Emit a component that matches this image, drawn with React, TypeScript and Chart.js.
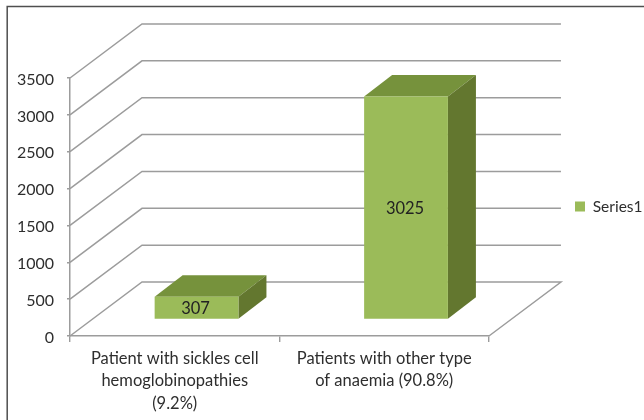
import React, { useEffect, useRef } from "react";
import { Chart, registerables } from "chart.js";

Chart.register(...registerables);

const categories: string[][] = [
  ["Patient with sickles cell", "hemoglobinopathies", "(9.2%)"],
  ["Patients with other type", "of anaemia (90.8%)"],
];
const seriesName = "Series1";
const seriesValues = [307, 3025];
const axisMax = 3500;
const axisStep = 500;

const FONT = "Lato, Carlito, Calibri, sans-serif";
const TEXT = "#2e2e2e";
const GRID = "#9c9c9c";
const FRONT = "#9bbb59";
const TOP = "#76923c";
const SIDE = "#63772f";

const WALL = { dx: 72, dy: 54 };
const BAR_OFFSET = { dx: 21.8, dy: 16.5 };
const BAR_DEPTH = { dx: 28, dy: 21.5 };
const LEGEND_LEFT = 575;
const LEGEND_CENTER_Y = 206.5;
const Y_LABEL_SHIFT = 1.5;

const pseudo3d = {
  id: "pseudo3d",
  afterLayout(chart: any) {
    const l = chart.legend;
    const h = l.bottom - l.top;
    const w = l.right - l.left;
    l.top = LEGEND_CENTER_Y - h / 2;
    l.bottom = l.top + h;
    l.left = LEGEND_LEFT;
    l.right = LEGEND_LEFT + w;
  },
  beforeDraw(chart: any) {
    const { ctx, width, height } = chart;
    chart.scales.y.getLabelItems(chart.chartArea).forEach((item: any) => {
      item.textOffset = Y_LABEL_SHIFT;
    });
    ctx.save();
    ctx.strokeStyle = "#4f4f4f";
    ctx.lineWidth = 1.5;
    ctx.beginPath();
    ctx.moveTo(7.2, height);
    ctx.lineTo(7.2, 6.4);
    ctx.lineTo(width, 6.4);
    ctx.stroke();
    ctx.restore();
  },
  beforeDatasetsDraw(chart: any) {
    const { ctx, scales, chartArea } = chart;
    const y = scales.y;
    const l = chartArea.left;
    const r = chartArea.right;
    ctx.save();
    ctx.strokeStyle = GRID;
    ctx.lineWidth = 1.5;
    for (const t of y.ticks) {
      const py = y.getPixelForValue(t.value);
      ctx.beginPath();
      ctx.moveTo(l, py);
      ctx.lineTo(l + WALL.dx, py - WALL.dy);
      ctx.lineTo(r + WALL.dx, py - WALL.dy);
      if (t.value === 0) ctx.lineTo(r, py);
      ctx.stroke();
    }
    ctx.restore();
  },
  beforeDatasetDraw(chart: any, args: any) {
    const { ctx } = chart;
    const meta = chart.getDatasetMeta(args.index);
    ctx.save();
    ctx.translate(BAR_OFFSET.dx, -BAR_OFFSET.dy);
    for (const bar of meta.data) {
      const p = bar.getProps(["x", "y", "base", "width"], true);
      const x0 = p.x - p.width / 2;
      const x1 = p.x + p.width / 2;
      ctx.fillStyle = TOP;
      ctx.beginPath();
      ctx.moveTo(x0, p.y);
      ctx.lineTo(x0 + BAR_DEPTH.dx, p.y - BAR_DEPTH.dy);
      ctx.lineTo(x1 + BAR_DEPTH.dx, p.y - BAR_DEPTH.dy);
      ctx.lineTo(x1, p.y);
      ctx.closePath();
      ctx.fill();
      ctx.fillStyle = SIDE;
      ctx.beginPath();
      ctx.moveTo(x1, p.y);
      ctx.lineTo(x1 + BAR_DEPTH.dx, p.y - BAR_DEPTH.dy);
      ctx.lineTo(x1 + BAR_DEPTH.dx, p.base - BAR_DEPTH.dy);
      ctx.lineTo(x1, p.base);
      ctx.closePath();
      ctx.fill();
    }
  },
  afterDatasetDraw(chart: any, args: any) {
    const { ctx } = chart;
    const meta = chart.getDatasetMeta(args.index);
    const values = chart.data.datasets[args.index].data;
    ctx.font = `16.5px ${FONT}`;
    ctx.fillStyle = "#222222";
    ctx.textAlign = "center";
    ctx.textBaseline = "middle";
    meta.data.forEach((bar: any, i: number) => {
      const p = bar.getProps(["x", "y", "base"], true);
      ctx.fillText(String(values[i]), p.x - 1, (p.y + p.base) / 2 + 1);
    });
    ctx.restore();
  },
};

export default function App() {
  const ref = useRef<HTMLCanvasElement | null>(null);
  useEffect(() => {
    document.body.style.margin = "0";
    const chart = new Chart(ref.current as HTMLCanvasElement, {
      type: "bar",
      data: {
        labels: categories as any,
        datasets: [
          {
            label: seriesName,
            data: seriesValues,
            backgroundColor: FRONT,
            barPercentage: 0.4,
            categoryPercentage: 1,
            clip: false as any,
          },
        ],
      },
      options: {
        responsive: false,
        animation: false,
        layout: { padding: { top: 78, left: 0, right: 77.5, bottom: 0 } },
        plugins: {
          tooltip: { enabled: false },
          legend: {
            position: "right",
            labels: {
              boxWidth: 10,
              boxHeight: 10,
              padding: 0,
              color: TEXT,
              font: { family: FONT, size: 15.5 },
            },
          },
        },
        scales: {
          x: {
            afterFit(s: any) {
              s.height = 84;
            },
            grid: {
              drawOnChartArea: false,
              drawTicks: true,
              tickLength: 6,
              color: GRID,
              lineWidth: 1.4,
            },
            border: { color: GRID, width: 1.5 },
            ticks: {
              padding: 5,
              color: TEXT,
              maxRotation: 0,
              minRotation: 0,
              font: { family: FONT, size: 16.5, lineHeight: 1.375 },
            },
          },
          y: {
            min: 0,
            max: axisMax,
            afterFit(s: any) {
              s.width = 70;
            },
            grid: {
              drawOnChartArea: false,
              drawTicks: true,
              tickLength: 3,
              color: GRID,
              lineWidth: 1.4,
            },
            border: { color: GRID, width: 1.5 },
            ticks: {
              stepSize: axisStep,
              padding: 13,
              color: TEXT,
              format: { useGrouping: false },
              font: { family: FONT, size: 16 },
            },
          },
        },
      },
      plugins: [pseudo3d],
    });
    return () => chart.destroy();
  }, []);
  return <canvas ref={ref} width={644} height={420} style={{ display: "block" }} />;
}
